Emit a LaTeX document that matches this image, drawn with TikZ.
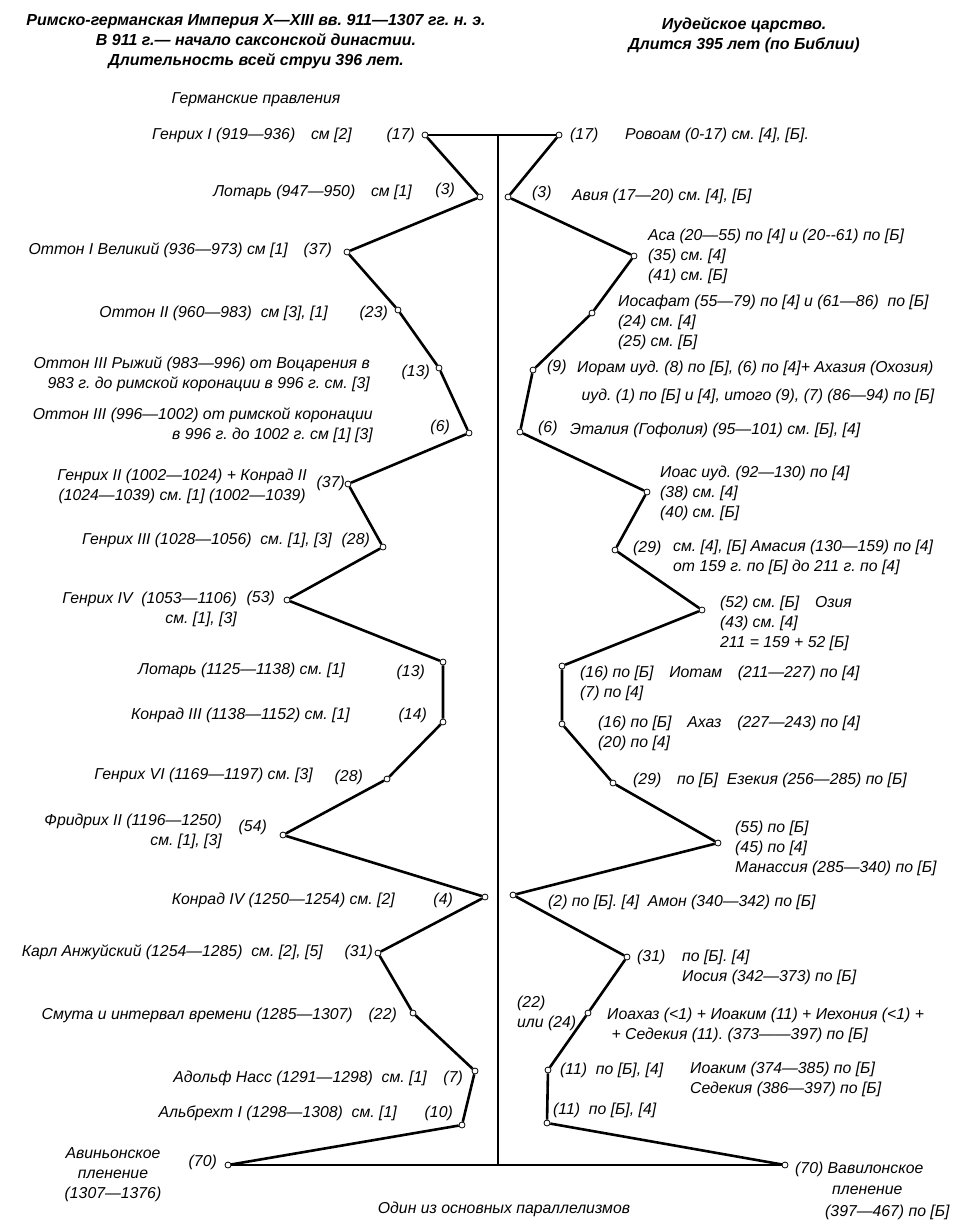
\documentclass[tikz,border=0pt]{standalone}
\usepackage{fontspec}
\setmainfont{Liberation Sans}
\usetikzlibrary{positioning}
\frenchspacing

\begin{document}
\begin{tikzpicture}[
    x=1pt, y=-1pt,
    lbl/.style={font=\itshape\fontsize{15.8}{20}\selectfont, inner sep=0pt},
    ttl/.style={font=\bfseries\itshape\fontsize{16}{20}\selectfont, inner sep=0pt, align=center},
    pt/.style={circle, draw, fill=white, inner sep=0pt, minimum size=6pt, line width=0.8pt},
    zig/.style={line width=2.6pt, line join=round},
    axis/.style={line width=1.2pt}
]
\useasboundingbox (0,0) rectangle (976,1223);

% Titles
\node[ttl] (romtitle) at (256,42) {Римско-германская Империя X—XIII вв. 911—1307 гг. н. э.\\В 911 г.— начало саксонской династии.\\Длительность всей струи 396 лет.};
\node[ttl] (judtitle) at (744,35) {Иудейское царство.\\Длится 395 лет (по Библии)};
\node[lbl] (germ) at (256,100) {Германские правления};
\node[lbl] (caption) at (504,1209) {Один из основных параллелизмов};

% Left: German reigns
\node[pt] (l1) at (425,135) {};
\node[pt] (l2) at (480,197) {};
\node[pt] (l3) at (347,252) {};
\node[pt] (l4) at (398,310) {};
\node[pt] (l5) at (439,368) {};
\node[pt] (l6) at (469,433) {};
\node[pt] (l7) at (348,484) {};
\node[pt] (l8) at (383,547) {};
\node[pt] (l9) at (287,600) {};
\node[pt] (l10) at (443,662) {};
\node[pt] (l11) at (443,722) {};
\node[pt] (l12) at (387,779) {};
\node[pt] (l13) at (283,835) {};
\node[pt] (l14) at (485,897) {};
\node[pt] (l15) at (378,953) {};
\node[pt] (l16) at (413,1013) {};
\node[pt] (l17) at (475,1071) {};
\node[pt] (l18) at (462,1125) {};
\node[pt] (l19) at (228,1165) {};

\node[lbl, anchor=east] (henry1) at (352,135) {Генрих I (919—936)\quad см [2]};
\node[lbl, anchor=east] (n17a) at (415,135) {(17)};
\node[lbl, anchor=east] (lothar1) at (412,192) {Лотарь (947—950)\quad см [1]};
\node[lbl, anchor=east] (n3a) at (455,190) {(3)};
\node[lbl, anchor=east] (otto1) at (288,250) {Оттон I Великий (936—973) см [1]};
\node[lbl, anchor=east] (n37a) at (332,250) {(37)};
\node[lbl, anchor=east] (otto2) at (328,313) {Оттон II (960—983)\ \ см [3], [1]};
\node[lbl, anchor=east] (n23) at (388,313) {(23)};
\node[lbl, anchor=east, align=right] (otto3a) at (370,374) {Оттон III Рыжий (983—996) от Воцарения в\\983 г. до римской коронации в 996 г. см. [3]};
\node[lbl, anchor=east] (n13a) at (430,372) {(13)};
\node[lbl, anchor=east, align=right] (otto3b) at (373,425) {Оттон III (996—1002) от римской коронации\\в 996 г. до 1002 г. см [1] [3]};
\node[lbl, anchor=east] (n6a) at (450,427) {(6)};
\node[lbl, anchor=east, align=center] (henry2) at (307,486) {Генрих II (1002—1024) + Конрад II\\(1024—1039) см. [1] (1002—1039)};
\node[lbl, anchor=east] (n37b) at (345,483) {(37)};
\node[lbl, anchor=east] (henry3) at (332,540) {Генрих III (1028—1056)\ \ см. [1], [3]};
\node[lbl, anchor=east] (n28a) at (370,540) {(28)};
\node[lbl, anchor=east, align=right] (henry4) at (237,609) {Генрих IV\ \ (1053—1106)\\см. [1], [3]};
\node[lbl, anchor=east] (n53) at (275,598) {(53)};
\node[lbl, anchor=east] (lothar2) at (345,670) {Лотарь (1125—1138) см. [1]};
\node[lbl, anchor=east] (n13b) at (425,672) {(13)};
\node[lbl, anchor=east] (konrad3) at (350,715) {Конрад III (1138—1152) см. [1]};
\node[lbl, anchor=east] (n14) at (427,715) {(14)};
\node[lbl, anchor=east] (henry6) at (313,775) {Генрих VI (1169—1197) см. [3]};
\node[lbl, anchor=east] (n28b) at (363,777) {(28)};
\node[lbl, anchor=east, align=right] (fried2) at (222,831) {Фридрих II (1196—1250)\\см. [1], [3]};
\node[lbl, anchor=east] (n54) at (267,827) {(54)};
\node[lbl, anchor=east] (konrad4) at (395,900) {Конрад IV (1250—1254) см. [2]};
\node[lbl, anchor=east] (n4) at (453,900) {(4)};
\node[lbl, anchor=east] (karl) at (323,952) {Карл Анжуйский (1254—1285)\ \ см. [2], [5]};
\node[lbl, anchor=east] (n31a) at (373,952) {(31)};
\node[lbl, anchor=east] (smuta) at (353,1015) {Смута и интервал времени (1285—1307)};
\node[lbl, anchor=east] (n22a) at (397,1015) {(22)};
\node[lbl, anchor=east] (adolf) at (427,1078) {Адольф Насс (1291—1298)\ \ см. [1]};
\node[lbl, anchor=east] (n7a) at (463,1078) {(7)};
\node[lbl, anchor=east] (albr) at (397,1113) {Альбрехт I (1298—1308)\ \ см. [1]};
\node[lbl, anchor=east] (n10) at (453,1113) {(10)};
\node[lbl, align=center] (avign) at (113,1175) {Авиньонское\\пленение\\(1307—1376)};
\node[lbl, anchor=east] (n70a) at (217,1162) {(70)};

% Right: Judah kings
\node[pt] (r1) at (559,135) {};
\node[pt] (r2) at (508,197) {};
\node[pt] (r3) at (634,256) {};
\node[pt] (r4) at (592,313) {};
\node[pt] (r5) at (533,370) {};
\node[pt] (r6) at (520,432) {};
\node[pt] (r7) at (647,492) {};
\node[pt] (r8) at (615,550) {};
\node[pt] (r9) at (702,610) {};
\node[pt] (r10) at (562,666) {};
\node[pt] (r11) at (562,724) {};
\node[pt] (r12) at (613,783) {};
\node[pt] (r13) at (718,843) {};
\node[pt] (r14) at (513,895) {};
\node[pt] (r15) at (627,957) {};
\node[pt] (r16) at (588,1013) {};
\node[pt] (r17) at (548,1070) {};
\node[pt] (r18) at (547,1123) {};
\node[pt] (r19) at (785,1165) {};

\node[lbl, anchor=west] (n17b) at (570,135) {(17)};
\node[lbl, anchor=west] (rehob) at (625,135) {Ровоам (0-17) см. [4], [Б].};
\node[lbl, anchor=west] (n3b) at (532,193) {(3)};
\node[lbl, anchor=west] (abijah) at (572,196) {Авия (17—20) см. [4], [Б]};
\node[lbl, anchor=west, align=left] (asa) at (648,256) {Аса (20—55) по [4] и (20-{}-61) по [Б]\\(35) см. [4]\\(41) см. [Б]};
\node[lbl, anchor=west, align=left] (josaph) at (618,322) {Иосафат (55—79) по [4] и (61—86)\ \ по [Б]\\(24) см. [4]\\(25) см. [Б]};
\node[lbl, anchor=west] (n9) at (547,367) {(9)};
\node[lbl, anchor=west, align=left] (joram) at (577,382) {Иорам иуд. (8) по [Б], (6) по [4]+ Ахазия (Охозия)\\[8pt]\ иуд. (1) по [Б] и [4], итого (9), (7) (86—94) по [Б]};
\node[lbl, anchor=west] (n6b) at (538,428) {(6)};
\node[lbl, anchor=west] (athal) at (570,430) {Эталия (Гофолия) (95—101) см. [Б], [4]};
\node[lbl, anchor=west, align=left] (joash) at (660,493) {Иоас иуд. (92—130) по [4]\\(38) см. [4]\\(40) см. [Б]};
\node[lbl, anchor=west] (n29a) at (633,548) {(29)};
\node[lbl, anchor=west, align=left] (amaz) at (673,557) {см. [4], [Б] Амасия (130—159) по [4]\\от 159 г. по [Б] до 211 г. по [4]};
\node[lbl, anchor=west, align=left] (uzziah) at (720,623) {(52) см. [Б]\quad Озия\\(43) см. [4]\\211 = 159 + 52 [Б]};
\node[lbl, anchor=west, align=left] (jotham) at (580,683) {(16) по [Б]\quad Иотам\quad (211—227) по [4]\\(7) по [4]};
\node[lbl, anchor=west, align=left] (ahaz) at (598,733) {(16) по [Б]\quad Ахаз\quad (227—243) по [4]\\(20) по [4]};
\node[lbl, anchor=west] (hezek) at (633,780) {(29)\quad по [Б]\ \ Езекия (256—285) по [Б]};
\node[lbl, anchor=west, align=left] (manas) at (735,848) {(55) по [Б]\\(45) по [4]\\Манассия (285—340) по [Б]};
\node[lbl, anchor=west] (amon) at (548,902) {(2) по [Б]. [4]\ \ Амон (340—342) по [Б]};
\node[lbl, anchor=west] (n31b) at (637,957) {(31)};
\node[lbl, anchor=west, align=left] (josiah) at (682,967) {по [Б]. [4]\\Иосия (342—373) по [Б]};
\node[lbl, anchor=west, align=left] (n22b) at (517,1013) {(22)\\или (24)};
\node[lbl, anchor=west, align=left] (jehoah) at (607,1025) {Иоахаз (<1) + Иоаким (11) + Иехония (<1) +\\\ + Седекия (11). (373——397) по [Б]};
\node[lbl, anchor=west] (n11a) at (560,1070) {(11)\ \ по [Б], [4]};
\node[lbl, anchor=west, align=left] (jehoiak) at (690,1079) {Иоаким (374—385) по [Б]\\Седекия (386—397) по [Б]};
\node[lbl, anchor=west] (n11b) at (553,1110) {(11)\ \ по [Б], [4]};
\node[lbl, anchor=west] (babyl) at (795,1169) {(70) Вавилонское};
\node[lbl, anchor=west] (babyl2) at (832,1190) {пленение};
\node[lbl, anchor=west] (babyl3) at (825,1212) {(397—467) по [Б]};

% Axis
\coordinate (top) at (498,135);
\coordinate (bot) at (498,1165);
\draw[axis] (top) -- (bot);
\draw[axis] (l1) -- (r1);
\draw[axis] (l19) -- (r19);

% Zigzags
\draw[zig] (l1) -- (l2) -- (l3) -- (l4) -- (l5) -- (l6) -- (l7) -- (l8) -- (l9) -- (l10)
    -- (l11) -- (l12) -- (l13) -- (l14) -- (l15) -- (l16) -- (l17) -- (l18) -- (l19);
\draw[zig] (r1) -- (r2) -- (r3) -- (r4) -- (r5) -- (r6) -- (r7) -- (r8) -- (r9) -- (r10)
    -- (r11) -- (r12) -- (r13) -- (r14) -- (r15) -- (r16) -- (r17) -- (r18) -- (r19);

\end{tikzpicture}
\end{document}
